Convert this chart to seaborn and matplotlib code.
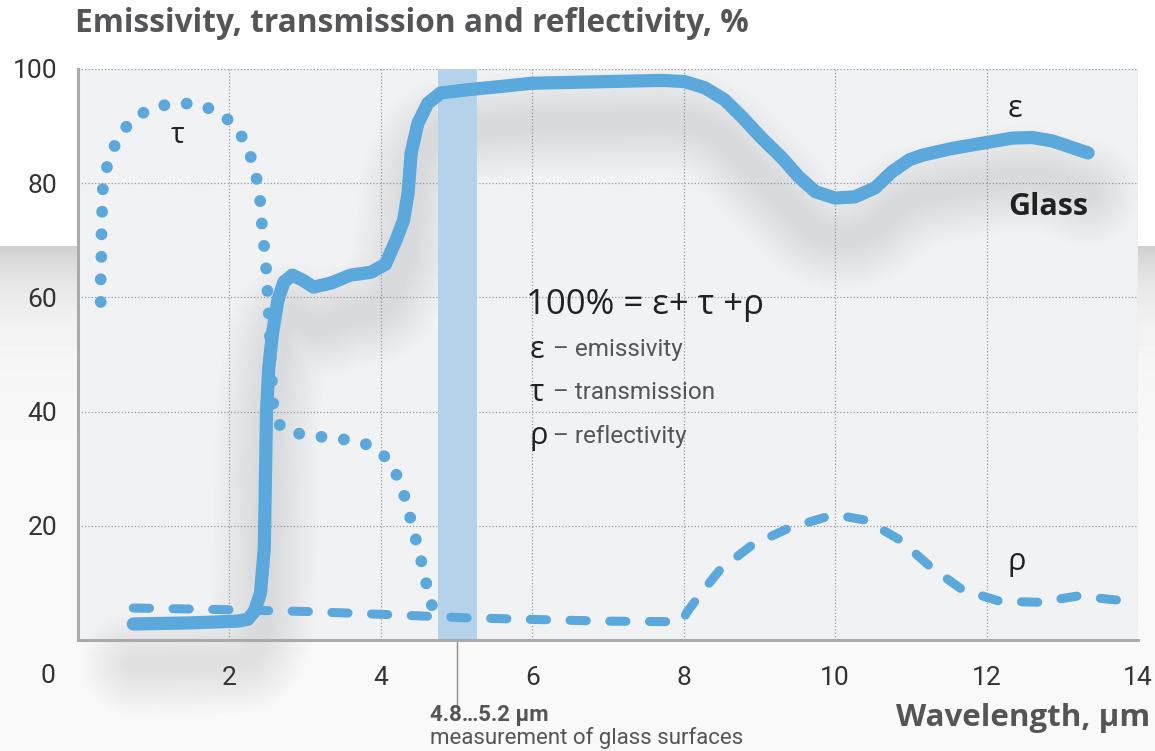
import numpy as np
import pandas as pd
import seaborn as sns
import matplotlib.pyplot as plt
from matplotlib import font_manager

# emissivity (solid), transmission (dotted), reflectivity (dashed), wavelength in um, value in %
eps_x = [0.73, 1.5, 2.1, 2.24, 2.33, 2.41, 2.46, 2.475, 2.49, 2.52, 2.57, 2.64, 2.72, 2.83,
         2.97, 3.11, 3.34, 3.6, 3.87, 4.06, 4.2, 4.3, 4.36, 4.40, 4.49, 4.62, 4.79, 5.1, 5.63,
         5.99, 7.0, 7.71, 8.01, 8.28, 8.54, 8.77, 9.03, 9.30, 9.52, 9.74, 10.0, 10.26, 10.53,
         10.75, 10.98, 11.15, 11.55, 12.34, 12.6, 12.87, 13.34]
eps_y = [2.8, 3.0, 3.3, 3.6, 5.0, 8.2, 16, 28, 40, 47.8, 53.8, 59.5, 62.7, 63.9, 63, 61.8,
         62.5, 63.9, 64.4, 65.8, 70, 73.5, 78.3, 85.3, 90.5, 94, 95.8, 96.3, 97, 97.5, 97.8,
         98.0, 97.8, 96.7, 94.6, 91.6, 87.9, 84.4, 81.1, 78.5, 77.4, 77.6, 79.2, 82, 84.1,
         84.9, 86.1, 87.9, 88.0, 87.4, 85.3]

tau_x = [0.3, 0.3, 0.31, 0.31, 0.32, 0.33, 0.4, 0.52, 0.7, 0.97, 1.27, 1.58, 1.88, 2.1, 2.25,
         2.34, 2.4, 2.42, 2.45, 2.48, 2.5, 2.53, 2.55, 2.58, 2.68, 2.98, 3.28, 3.59, 3.89, 4.12,
         4.25, 4.35, 4.42, 4.5, 4.57, 4.64, 4.73]
tau_y = [59.2, 63.4, 67.6, 71.5, 75.7, 79.7, 83.9, 87.7, 91, 93.2, 94, 93.9, 92.3, 89.7, 86,
         82, 78, 74, 70, 66, 61.6, 55, 48, 40.8, 37.1, 35.9, 35.5, 35, 34, 31.3, 27.7, 23.6,
         19.6, 15.8, 11.7, 7.5, 3.8]

rho_x = [0.73, 2.0, 3.0, 4.0, 5.1, 6.0, 7.0, 7.97, 8.05, 8.24, 8.48, 8.9, 9.39, 9.87, 10.1,
         10.4, 10.86, 11.26, 11.68, 12.17, 12.7, 13.2, 13.87]
rho_y = [5.6, 5.3, 5.0, 4.5, 3.9, 3.6, 3.3, 3.2, 5.0, 8.4, 12.3, 16.6, 19.6, 21.5, 21.7, 21,
         17.5, 12.8, 8.8, 6.8, 6.6, 7.7, 6.8]

band_lo, band_hi, band_mid = 4.75, 5.27, 5.0
x_ticks = [2, 4, 6, 8, 10, 12, 14]
y_ticks = [20, 40, 60, 80, 100]

blue = '#5aa8dc'
grey_txt = '#555557'
dark = '#222222'

sns.set_theme(style='white')
names = {f.name for f in font_manager.fontManager.ttflist}
narrow = 'Liberation Sans Narrow' if 'Liberation Sans Narrow' in names else 'Roboto'
plt.rcParams['font.family'] = [narrow, 'DejaVu Sans']
wide = ['Open Sans', 'DejaVu Sans']

fig = plt.figure(figsize=(11.55, 7.51), dpi=100)

# background: white top, grey band fading out downwards
bg = fig.add_axes([0, 0, 1, 1], zorder=-10)
rows = np.arange(751)
shade = np.where(rows < 246, 1.0, 0.975 - 0.165 * np.exp(-(rows - 246) / 45.0))
img = np.repeat(shade[:, None], 2, axis=1)
bg.imshow(img, cmap='gray', vmin=0, vmax=1, aspect='auto', extent=[0, 1, 0, 1])
bg.axis('off')

ax = fig.add_axes([78 / 1155, 111 / 751, 1060 / 1155, 571 / 751], zorder=1)
ax.set_facecolor('#f1f2f4')

# soft shadow under the emissivity curve
shadow_y = np.array(eps_y) - 7
for w in np.linspace(75, 15, 12):
    ax.plot(eps_x, shadow_y, color='#7c7c88', alpha=0.012, lw=w, solid_capstyle='round',
            solid_joinstyle='round', clip_on=False, zorder=1)

ax.axvspan(band_lo, band_hi, color='#b4d3ea', zorder=2, lw=0)

df_eps = pd.DataFrame({'x': eps_x, 'y': eps_y})
df_tau = pd.DataFrame({'x': tau_x, 'y': tau_y})
df_rho = pd.DataFrame({'x': rho_x, 'y': rho_y})

sns.lineplot(data=df_rho, x='x', y='y', ax=ax, color=blue, lw=6.5, sort=False, estimator=None,
             linestyle=(0, (1.8, 2.6)), dash_capstyle='round', zorder=3)
sns.lineplot(data=df_tau, x='x', y='y', ax=ax, color=blue, lw=8.5, sort=False, estimator=None,
             linestyle=(0, (0.01, 1.9)), dash_capstyle='round', zorder=3)
sns.lineplot(data=df_eps, x='x', y='y', ax=ax, color=blue, lw=9.5, sort=False, estimator=None,
             solid_capstyle='round', solid_joinstyle='round', zorder=4)

ax.set_xlim(0, 14)
ax.set_ylim(0, 100)
ax.set_xticks(x_ticks)
ax.set_yticks(y_ticks)
ax.set_xlabel('')
ax.set_ylabel('')
ax.grid(True, ls=':', color='#9a9a9a', lw=0.9)
ax.set_axisbelow(True)
for s in ['top', 'right']:
    ax.spines[s].set_visible(False)
for s in ['left', 'bottom']:
    ax.spines[s].set_color('#a9aaac')
    ax.spines[s].set_linewidth(2.2)
ax.tick_params(axis='both', direction='out', length=6, width=2.2, color='#a9aaac',
               labelsize=19, labelcolor='#333333')
ax.tick_params(axis='x', pad=13)
ax.tick_params(axis='y', pad=9)
ax.text(-0.028, -0.063, '0', transform=ax.transAxes, ha='center', va='center',
        fontsize=19, color='#333333')

# curve labels
ax.text(12.38, 93, 'ε', fontsize=22, color=dark, ha='center', va='center', family=wide)
ax.text(12.28, 75.8, 'Glass', fontsize=22, color=dark, ha='left', va='center',
        fontweight='bold', family=wide)
ax.text(1.32, 88.4, 'τ', fontsize=21, color=dark, ha='center', va='center', family=wide)
ax.text(12.4, 13.7, 'ρ', fontsize=22, color=dark, ha='center', va='center', family=wide)

# formula block
ax.text(5.92, 58.7, '100% = ε+ τ +ρ', fontsize=25, color=dark, ha='left', va='center',
        family=wide)
legend_rows = [('ε', 'emissivity', 50.8), ('τ', 'transmission', 43.3), ('ρ', 'reflectivity', 35.7)]
for sym, word, yy in legend_rows:
    ax.text(5.96, yy, sym, fontsize=22, color=dark, ha='left', va='center', family=wide)
    ax.text(6.27, yy, '– ' + word, fontsize=17.5, color=grey_txt, ha='left', va='center')

# band marker below axis
ax.plot([band_mid, band_mid], [0, -0.115], transform=ax.get_xaxis_transform(),
        clip_on=False, color='#8c8c8c', lw=1)
fig.text(430 / 1155, 1 - 715 / 751, '4.8…5.2 µm', fontsize=16, fontweight='bold',
         color=grey_txt, ha='left', va='center')
fig.text(430 / 1155, 1 - 738 / 751, 'measurement of glass surfaces', fontsize=16,
         color=grey_txt, ha='left', va='center')

fig.text(1150 / 1155, 1 - 718 / 751, 'Wavelength, µm', fontsize=22.5, fontweight='bold',
         color=grey_txt, ha='right', va='center', family=wide)
fig.text(75 / 1155, 1 - 23 / 751, 'Emissivity, transmission and reflectivity, %', fontsize=22.8,
         fontweight='bold', color=grey_txt, ha='left', va='center', family=wide)

fig.savefig('out.png', dpi=100)
